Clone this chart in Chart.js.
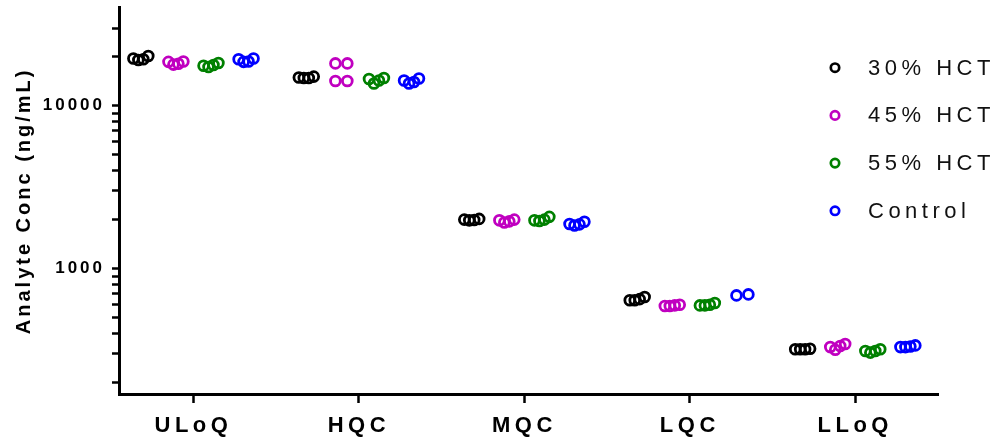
<!DOCTYPE html>
<html>
<head>
<meta charset="utf-8">
<script src="https://cdn.jsdelivr.net/npm/chart.js@4.4.1/dist/chart.umd.min.js"></script>
<style>
    html, body { margin: 0; padding: 0; background: #fff; }
</style>
</head>
<body>
<canvas id="hctChart" width="999" height="442"></canvas>
<script>
const categories = ['ULoQ', 'HQC', 'MQC', 'LQC', 'LLoQ'];
const seriesNames = ['30% HCT', '45% HCT', '55% HCT', 'Control'];
const seriesColors = ['#000000', '#C000C0', '#008000', '#0000FF'];

// replicate concentrations (ng/mL), one list per QC level
const hct30 = [[19500, 19100, 19300, 20200], [14900, 14800, 14800, 15100], [2000, 1980, 1990, 2020], [640, 640, 650, 670], [320, 320, 320, 322]];
const hct45 = [[18600, 17900, 18100, 18700], [18200, 18200, 14200, 14200], [1980, 1920, 1950, 2000], [590, 590, 595, 600], [330, 318, 335, 345]];
const hct55 = [[17600, 17300, 17800, 18300], [14600, 13700, 14300, 14800], [1980, 1960, 2000, 2080], [595, 595, 600, 615], [312, 305, 312, 320]];
const control = [[19300, 18600, 18700, 19500], [14300, 13700, 14000, 14700], [1880, 1840, 1870, 1940], [685, 695], [330, 330, 333, 338]];

const yTickValues = [200, 300, 400, 500, 600, 700, 800, 900, 1000, 2000, 3000, 4000, 5000, 6000, 7000, 8000, 9000, 10000, 20000, 30000];
const yTickLabels = [1000, 10000];

const FONT = "'Liberation Sans', Arial, sans-serif";

//regroupe les replicats proches et les ecarte un peu sur x
function toPoints(values, catIdx, seriesIdx) {
    const clusters = [];
    values.forEach(v => {
        const c = clusters.find(c => Math.abs(v / c[0] - 1) < 0.08);
        c ? c.push(v) : clusters.push([v]);
    });
    const pts = [];
    const center = catIdx + (seriesIdx - 1.5) * 0.212;
    clusters.forEach(c => {
        const step = c.length > 2 ? 0.03 : 0.072;
        c.forEach((v, k) => pts.push({ x: center + (k - (c.length - 1) / 2) * step, y: v }));
    });
    return pts;
}

const allSeries = [hct30, hct45, hct55, control];
const datasets = allSeries.map((series, s) => ({
    label: seriesNames[s],
    data: series.flatMap((vals, c) => toPoints(vals, c, s)),
    pointStyle: 'circle',
    pointRadius: 4.9,
    pointHoverRadius: 4.9,
    borderWidth: 2.8,
    borderColor: seriesColors[s],
    backgroundColor: 'transparent',
    showLine: false,
}));

// y axis text is drawn before the datasets, x labels after them
const spacingPlugin = {
    id: 'spacing',
    beforeUpdate(chart) { chart.ctx.letterSpacing = '3px'; },
    beforeDraw(chart) { chart.ctx.letterSpacing = '3px'; },
    afterDatasetsDraw(chart) { chart.ctx.letterSpacing = '4.5px'; },
};

const sideLegend = {
    id: 'sideLegend',
    afterDraw(chart) {
        const ctx = chart.ctx;
        const area = chart.chartArea;
        ctx.save();
        ctx.letterSpacing = '4.5px';
        ctx.font = '22px ' + FONT;
        ctx.textBaseline = 'middle';
        ctx.textAlign = 'left';
        seriesNames.forEach((name, i) => {
            const x = area.right - 103;
            const y = area.top + 60 + i * 47.7;
            ctx.beginPath();
            ctx.arc(x, y, 4.2, 0, Math.PI * 2);
            ctx.lineWidth = 2.7;
            ctx.strokeStyle = seriesColors[i];
            ctx.stroke();
            ctx.fillStyle = '#111';
            ctx.fillText(name, x + 33, y + 1);
        });
        ctx.restore();
    }
};

new Chart(document.getElementById('hctChart'), {
    type: 'scatter',
    data: { datasets },
    plugins: [spacingPlugin, sideLegend],
    options: {
        responsive: false,
        animation: false,
        devicePixelRatio: 1,
        layout: { padding: { top: 4, right: 61, left: 0, bottom: 0 } },
        plugins: {
            legend: { display: false },
            tooltip: { enabled: false },
        },
        scales: {
            x: {
                type: 'linear',
                min: -0.45,
                max: 4.5,
                afterBuildTicks: scale => { scale.ticks = categories.map((c, i) => ({ value: i })); },
                afterFit: scale => {
                    scale.height = 48;
                    scale.paddingLeft = 0;
                    scale.paddingRight = 0;
                },
                ticks: {
                    z: 1,
                    callback: v => categories[v],
                    font: { family: FONT, size: 22, weight: 'bold' },
                    color: '#000',
                    padding: 10,
                    maxRotation: 0,
                    autoSkip: false,
                },
                grid: { drawOnChartArea: false, tickLength: 9, tickWidth: 2.5, color: '#000' },
                border: { color: '#000', width: 3 },
            },
            y: {
                type: 'logarithmic',
                min: 170,
                max: 40000,
                afterBuildTicks: scale => { scale.ticks = yTickValues.map(v => ({ value: v })); },
                afterFit: scale => {
                    scale.width = 119;
                    scale.paddingTop = 0;
                    scale.paddingBottom = 0;
                },
                ticks: {
                    callback: v => yTickLabels.includes(v) ? String(v) : '',
                    font: { family: FONT, size: 17, weight: 'bold' },
                    color: '#000',
                    padding: 7,
                    autoSkip: false,
                },
                grid: { drawOnChartArea: false, tickLength: 7, tickWidth: 2.5, color: '#000' },
                border: { color: '#000', width: 3 },
                title: {
                    display: true,
                    text: 'Analyte Conc (ng/mL)',
                    font: { family: FONT, size: 20, weight: 'bold' },
                    color: '#000',
                    padding: { top: 12, bottom: 0 },
                },
            },
        },
    },
});
</script>
</body>
</html>
